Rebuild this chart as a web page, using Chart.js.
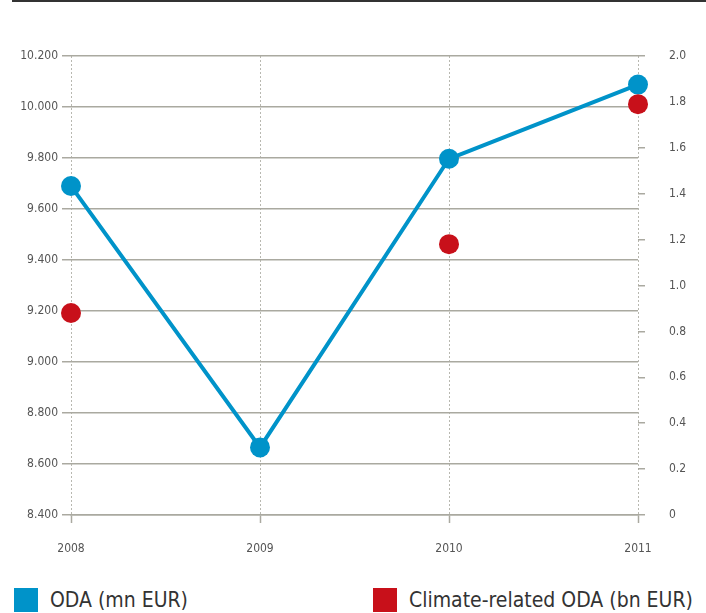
<!DOCTYPE html>
<html>
<head>
<meta charset="utf-8">
<script src="https://cdn.jsdelivr.net/npm/chart.js@4.4.1/dist/chart.umd.min.js"></script>
<style>
  body { margin: 0; background: #fff; font-family: "DejaVu Sans Condensed", "Liberation Sans Narrow", sans-serif; }
  #wrap { position: relative; width: 706px; height: 613px; }
  #topline { position: absolute; left: 12px; right: 0; top: 0; height: 2px; background: #333; }
  #chartBox { position: absolute; left: 0; top: 0; width: 706px; height: 575px; }
  .leg { position: absolute; top: 588px; height: 24px; font-size: 21px; color: #333; display: flex; align-items: center; white-space: nowrap; }
  .leg span.sw { display: inline-block; width: 24px; height: 24px; margin-right: 12px; flex: none; }
</style>
</head>
<body>
<div id="wrap">
  <div id="topline"></div>
  <div id="chartBox"><canvas id="odaChart"></canvas></div>
  <div class="leg" style="left:14px"><span class="sw" style="background:#0093c9"></span>ODA (mn EUR)</div>
  <div class="leg" style="left:373px"><span class="sw" style="background:#c8101a"></span>Climate-related ODA (bn EUR)</div>
</div>
<script>
const years = ['2008', '2009', '2010', '2011'];
const odaMn = [9690, 8665, 9797, 10088];
const climateBn = [0.88, null, 1.18, 1.79];

const gridCol = '#aaa9a0';
const tickFont = { family: '"DejaVu Sans Condensed", "Liberation Sans Narrow", sans-serif', size: 12 };

const ctx = document.getElementById('odaChart');
new Chart(ctx, {
    type: 'line',
    data: {
        labels: years,
        datasets: [
            {
                label: 'Climate-related ODA (bn EUR)',
                data: climateBn,
                yAxisID: 'y2',
                showLine: false,
                pointRadius: 10,
                pointBackgroundColor: '#c8101a',
                pointBorderWidth: 0,
                borderColor: '#c8101a',
                order: 0
            },
            {
                label: 'ODA (mn EUR)',
                data: odaMn,
                yAxisID: 'y',
                borderColor: '#0093c9',
                borderWidth: 4,
                pointRadius: 10,
                pointBackgroundColor: '#0093c9',
                pointBorderWidth: 0,
                tension: 0,
                order: 1
            }
        ]
    },
    options: {
        responsive: true,
        maintainAspectRatio: false,
        animation: false,
        layout: { padding: { top: 56, left: 0, right: 0, bottom: 0 } },
        plugins: { legend: { display: false }, tooltip: { enabled: false } },
        scales: {
            x: {
                offset: false,
                grid: { color: '#b8b8b0', lineWidth: 1, tickLength: 8, tickBorderDash: [], tickColor: gridCol, tickWidth: 1.5 },
                border: { display: true, color: gridCol, width: 1.5, dash: [2, 2] },
                ticks: { color: '#555', font: tickFont, padding: 19, maxRotation: 0 },
                afterFit: (s) => { s.height = 60; }
            },
            y: {
                position: 'left',
                min: 8400, max: 10200,
                grid: { color: gridCol, lineWidth: 1.5, tickLength: 9 },
                border: { display: false },
                ticks: {
                    stepSize: 200, color: '#555', font: tickFont, padding: 4,
                    callback: (v) => (v / 1000).toFixed(3)
                },
                afterFit: (s) => { s.width = 71; }
            },
            y2: {
                position: 'right',
                min: 0, max: 2,
                grid: { drawOnChartArea: false, color: gridCol, lineWidth: 1.5, tickLength: 7 },
                border: { display: false },
                ticks: {
                    stepSize: 0.2, color: '#555', font: tickFont, padding: 24,
                    callback: (v) => v === 0 ? '0' : v.toFixed(1)
                },
                afterFit: (s) => { s.width = 68; }
            }
        }
    }
});
</script>
</body>
</html>
